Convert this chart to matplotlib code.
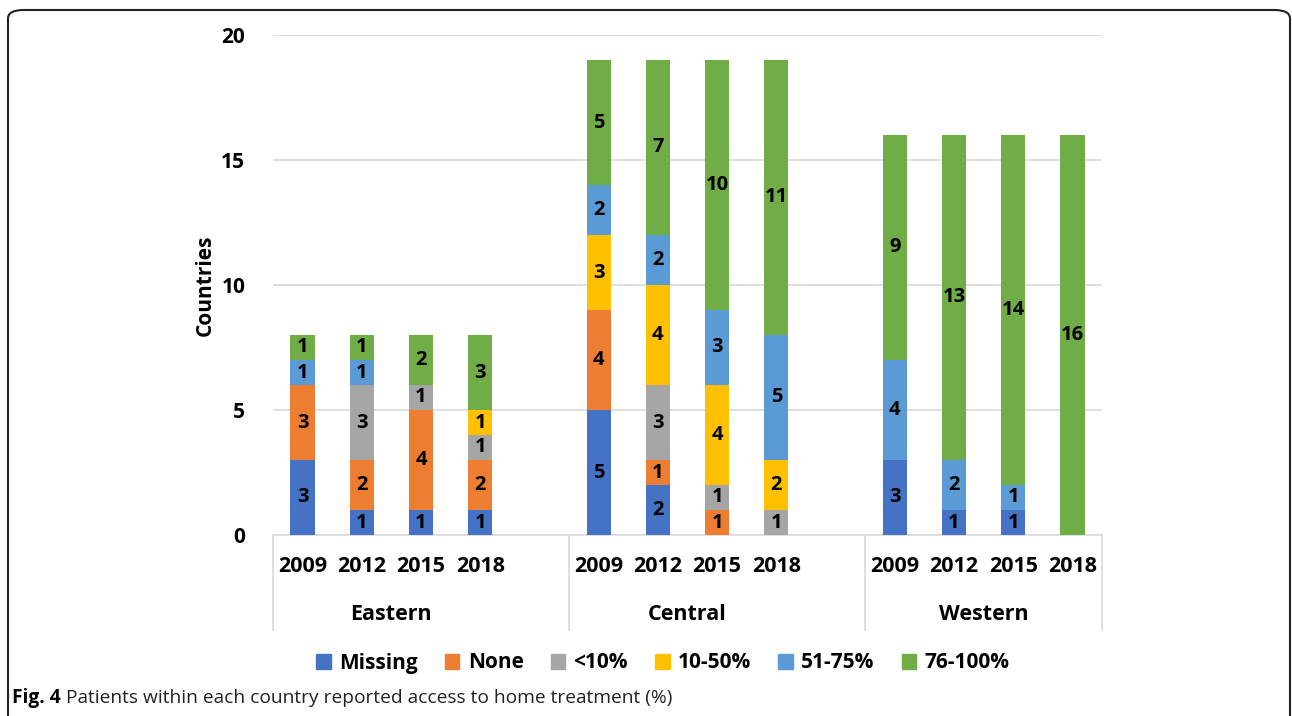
import numpy as np
import matplotlib
matplotlib.use("Agg")
from matplotlib import pyplot as plt
from matplotlib.patches import Patch, FancyBboxPatch

plt.rcParams['font.family'] = ['Open Sans', 'DejaVu Sans']

regions = ["Eastern", "Central", "Western"]
years = ["2009", "2012", "2015", "2018"]
levels = ["Missing", "None", "<10%", "10-50%", "51-75%", "76-100%"]
colors = ["#4472C4", "#ED7D31", "#A5A5A5", "#FFC000", "#5B9BD5", "#70AD47"]

# counts per bar (Eastern 2009..2018, Central 2009..2018, Western 2009..2018)
missing = [3, 1, 1, 1, 5, 2, 0, 0, 3, 1, 1, 0]
none_ = [3, 2, 4, 2, 4, 1, 1, 0, 0, 0, 0, 0]
lt10 = [0, 3, 1, 1, 0, 3, 1, 1, 0, 0, 0, 0]
p10_50 = [0, 0, 0, 1, 3, 4, 4, 2, 0, 0, 0, 0]
p51_75 = [1, 1, 0, 0, 2, 2, 3, 5, 4, 2, 1, 0]
p76_100 = [1, 1, 2, 3, 5, 7, 10, 11, 9, 13, 14, 16]
series = [missing, none_, lt10, p10_50, p51_75, p76_100]

# x slots: 4 years per region, one empty slot between regions
xpos = []
for g in range(len(regions)):
    for k in range(len(years)):
        xpos.append(g * 5 + k)
xpos = np.array(xpos)

fig = plt.figure(figsize=(12.92, 7.16), dpi=100)
ax = fig.add_axes([273/1292, 1-535/716, (1102-273)/1292, 500/716])

bottom = np.zeros(len(xpos))
for vals, col, name in zip(series, colors, levels):
    v = np.array(vals)
    ax.bar(xpos, v, 0.41, bottom=bottom, color=col, label=name, zorder=3)
    for x, b, h in zip(xpos, bottom, v):
        if h > 0:
            ax.text(x, b + h/2, str(h), ha='center', va='center',
                    fontsize=14.5, fontweight='bold', color='black', zorder=4)
    bottom += v

ax.set_xlim(-0.5, 13.5)
ax.set_ylim(0, 20)
ax.set_yticks([0, 5, 10, 15, 20])
ax.yaxis.grid(True, color='#D9D9D9', linewidth=1.2, zorder=0)
ax.set_xticks([])
for s in ax.spines.values():
    s.set_visible(False)
ax.tick_params(axis='y', length=0, pad=20, labelsize=15)
for t in ax.get_yticklabels():
    t.set_fontweight('bold')
ax.set_ylabel("Countries", fontsize=15, fontweight='bold', labelpad=4)

# multi-level category axis
tr = ax.get_xaxis_transform()
ax.plot([-0.5, 13.5], [0, 0], color='#D9D9D9', lw=1.2, transform=tr, clip_on=False)
for xb in [-0.5, 4.5, 9.5, 13.5]:
    ax.plot([xb, xb], [0, -0.19], color='#D9D9D9', lw=1.2, transform=tr, clip_on=False)
for i, x in enumerate(xpos):
    ax.text(x, -0.064, years[i % 4], transform=tr, ha='center', va='center',
            fontsize=15.5, fontweight='bold')
for g, name in enumerate(regions):
    ax.text(g * 5 + 1.5, -0.16, name, transform=tr, ha='center', va='center',
            fontsize=15.5, fontweight='bold')

handles = [Patch(color=c, label=n) for c, n in zip(colors, levels)]
leg = fig.legend(handles=handles, loc='center', bbox_to_anchor=(0.513, 1-663/716),
                 ncol=6, frameon=False, handlelength=0.7, handleheight=0.7,
                 handletextpad=0.4, columnspacing=1.3,
                 prop={'size': 15, 'weight': 'bold'})

# rounded frame
frame = FancyBboxPatch((8/1292, -0.1), (1282/1292), (706/716) + 0.1,
                       boxstyle="round,pad=0,rounding_size=0.012",
                       transform=fig.transFigure, fill=False,
                       edgecolor='#222222', linewidth=1.5)
fig.patches.append(frame)

t1 = fig.text(12/1292, 1-698/716, "Fig. 4", fontsize=13.8, fontweight='bold',
              va='center', ha='left')
fig.canvas.draw()
bb = t1.get_window_extent()
fig.text((bb.x1 + 5)/1292, 1-698/716,
         "Patients within each country reported access to home treatment (%)",
         fontsize=13.8, va='center', ha='left', color='#222222')

fig.savefig("out.png", dpi=100)
